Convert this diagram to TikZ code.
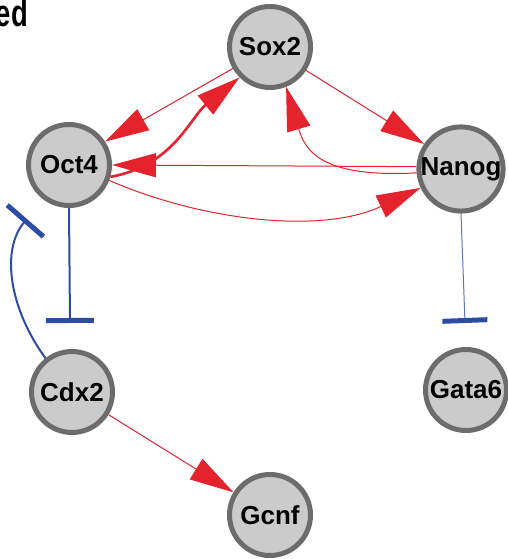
\documentclass[tikz,border=0pt]{standalone}
\usepackage{fontspec}
\setmainfont{Liberation Sans}
\usetikzlibrary{arrows.meta}
\definecolor{actred}{HTML}{E4232C}
\definecolor{inhblue}{HTML}{2C4DA5}
\definecolor{inhlight}{HTML}{5E72C0}
\definecolor{nodefill}{HTML}{CBCBCB}
\definecolor{nodeline}{HTML}{6C6C6C}
\tikzset{
  gene/.style={circle, draw=nodeline, fill=nodefill, line width=5pt,
    minimum size=81pt, inner sep=0pt, outer sep=2.5pt,
    font=\bfseries\fontsize{26}{28}\selectfont},
  act/.style={draw=actred, line width=1pt,
    -{Triangle[length=44pt,width=24pt,fill=actred]}},
  actthick/.style={act, line width=2.6pt},
  inh/.style={draw=inhblue, line width=2pt,
    -{Bar[width=48pt,line width=5pt]}},
  inhthin/.style={draw=inhlight, line width=1pt,
    -{Bar[width=45pt,line width=5pt,color=inhblue]}},
  paneltext/.style={font=\bfseries\fontsize{38}{40}\selectfont, anchor=base east, inner sep=0pt}
}
\begin{document}
\begin{tikzpicture}[x=1pt,y=-1pt]
\useasboundingbox (0,0) rectangle (508,559);
\node[paneltext] (lab) at (28,27) {\scalebox{0.72}[1]{ed}};
\node[gene] (Sox2) at (270,47) {Sox2};
\node[gene] (Oct4) at (69,165) {Oct4};
\node[gene] (Nanog) at (461,169) {Nanog};
\node[gene] (Cdx2) at (72,392) {Cdx2};
\node[gene] (Gata6) at (466,390) {Gata6};
\node[gene] (Gcnf) at (270,515) {Gcnf};
\coordinate (barOct) at (70,323);
\coordinate (barNan) at (465,323);
\coordinate (barCdx) at (27,219);
% activations
\draw[act] (Sox2.210) -- (Oct4.33);
\draw[actthick] (Oct4.-16) to[out=10,in=219] (Sox2.225);
\draw[act] (Nanog.177) -- (Oct4.0);
\draw[act] (Sox2.-33) -- (Nanog.146);
\draw[act] (Nanog.185) .. controls (320,178) and (305,150) .. (Sox2.-68);
\draw[act] (Oct4.-21) .. controls (200,220) and (320,235) .. (Nanog.205);
\draw[act] (Cdx2) -- (Gcnf);
% inhibitions
\draw[inh] (Oct4.south) -- (barOct);
\draw[inh] (Cdx2.128) .. controls (10,310) and (0,250) .. (barCdx);
\draw[inhthin] (Nanog.south) -- (barNan);
\end{tikzpicture}
\end{document}
